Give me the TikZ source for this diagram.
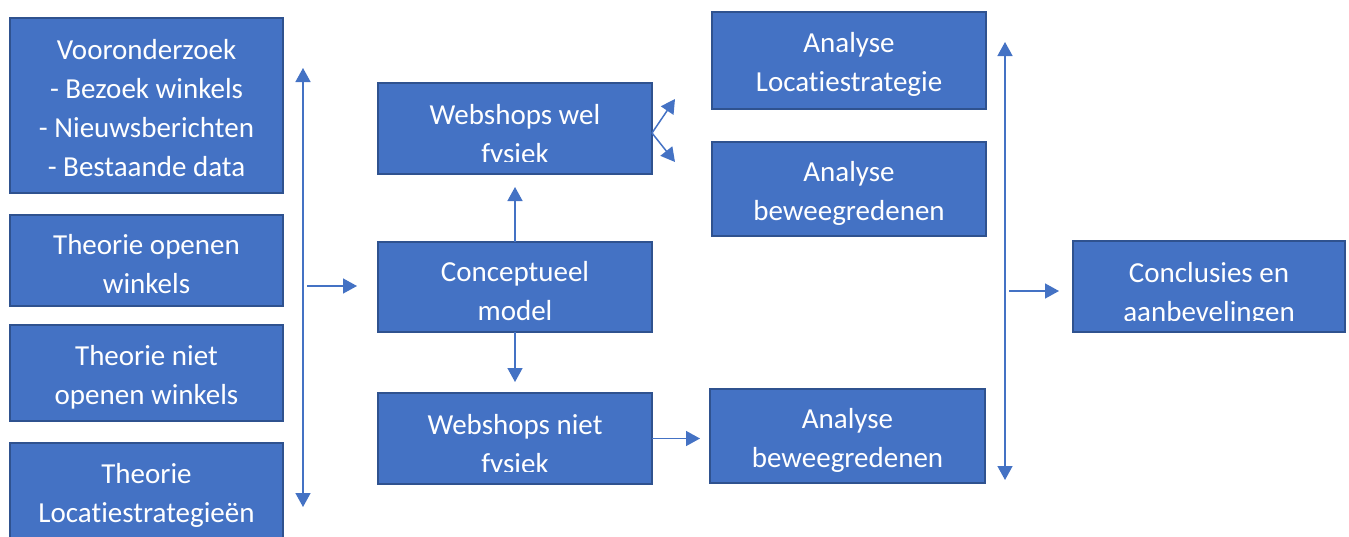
\documentclass[tikz,border=0pt]{standalone}
\usepackage{fontspec}
\setmainfont[Ligatures=NoCommon]{Carlito}
\usetikzlibrary{arrows.meta}
\definecolor{boxfill}{HTML}{4472C4}
\definecolor{boxline}{HTML}{2F528F}
\begin{document}
\begin{tikzpicture}[x=1pt,y=-1pt,
  blok/.style={draw=boxline,line width=2pt,fill=boxfill,inner sep=0pt,outer sep=0pt},
  tekst/.style={text=white,align=center,font=\fontsize{29}{39}\selectfont},
  tip/.tip={Triangle[length=14pt,width=15pt]},
  pijl/.style={draw=boxfill,line width=1.5pt,-tip},
  dubbel/.style={draw=boxfill,line width=1.5pt,tip-tip}]
\useasboundingbox (0,0) rectangle (1349,536);

% left column: preliminary research and theory
\node[blok,minimum width=273pt,minimum height=175pt] (voor) at (146.5,105.5) {};
\node[tekst] at ([yshift=-3pt]voor.center)
  {Vooronderzoek\\- Bezoek winkels\\- Nieuwsberichten\\- Bestaande data};
\node[blok,minimum width=273pt,minimum height=91pt] (open) at (146.5,260.5) {};
\node[tekst] at ([yshift=-4pt]open.center) {Theorie openen\\winkels};
\node[blok,minimum width=273pt,minimum height=96pt] (nietopen) at (146.5,373) {};
\node[tekst] at ([yshift=-4pt]nietopen.center) {Theorie niet\\openen winkels};
\node[blok,minimum width=273pt,minimum height=103pt] (theoloc) at (146.5,494.5) {};
\node[tekst] at ([yshift=-1pt]theoloc.center) {Theorie\\Locatiestrategieën};

% middle column
\node[blok,minimum width=274pt,minimum height=91pt] (wel) at (515,128.5) {};
\begin{scope}
  \clip (378,83) rectangle (652,161);
  \node[tekst] at (515,136.5) {Webshops wel\\fysiek};
\end{scope}
\node[blok,minimum width=274pt,minimum height=90pt] (conc) at (515,287) {};
\node[tekst] at ([yshift=-4pt]conc.center) {Conceptueel\\model};
\node[blok,minimum width=274pt,minimum height=91pt] (wnf) at (515,438.5) {};
\begin{scope}
  \clip (378,393) rectangle (652,471);
  \node[tekst] at (515,446.5) {Webshops niet\\fysiek};
\end{scope}

% analysis column
\node[blok,minimum width=274pt,minimum height=97pt] (aloc) at (849,60.5) {};
\node[tekst] at ([yshift=-4pt]aloc.center) {Analyse\\Locatiestrategie};
\node[blok,minimum width=274pt,minimum height=94pt] (abew) at (849,189) {};
\node[tekst] at ([yshift=-4pt]abew.center) {Analyse\\beweegredenen};
\node[blok,minimum width=275pt,minimum height=94pt] (abewn) at (847.5,436) {};
\node[tekst] at ([yshift=-4pt]abewn.center) {Analyse\\beweegredenen};

% conclusions
\node[blok,minimum width=272pt,minimum height=91pt] (concl) at (1209,286.5) {};
\begin{scope}
  \clip (1073,241) rectangle (1345,320);
  \node[tekst] at (1209,294.5) {Conclusies en\\aanbevelingen};
\end{scope}

% free ends of the connectors
\coordinate (linkstop) at (303,68);
\coordinate (linksonder) at (303,507);
\coordinate (linksvan) at (307,286);
\coordinate (linksnaar) at (357,286);
\coordinate (welboven) at (675,99);
\coordinate (welonder) at (675,162);
\coordinate (rechtstop) at (1005,42);
\coordinate (rechtsonder) at (1005,480);
\coordinate (rechtsvan) at (1009,291);
\coordinate (rechtsnaar) at (1059,291);

% connectors
\draw[dubbel] (linksonder) -- (linkstop);
\draw[pijl] (linksvan) -- (linksnaar);
\draw[pijl,shorten >=13pt] (conc.north) -- (wel.south);
\draw[pijl,shorten >=11pt] (conc.south) -- (wnf.north);
\draw[pijl,shorten >=10pt] (wnf.east) -- (wnf.east -| abewn.west);
\draw[pijl] ([yshift=-4.5pt]wel.east) -- (welboven);
\draw[pijl] ([yshift=-4.5pt]wel.east) -- (welonder);
\draw[dubbel] (rechtsonder) -- (rechtstop);
\draw[pijl] (rechtsvan) -- (rechtsnaar);
\end{tikzpicture}
\end{document}
